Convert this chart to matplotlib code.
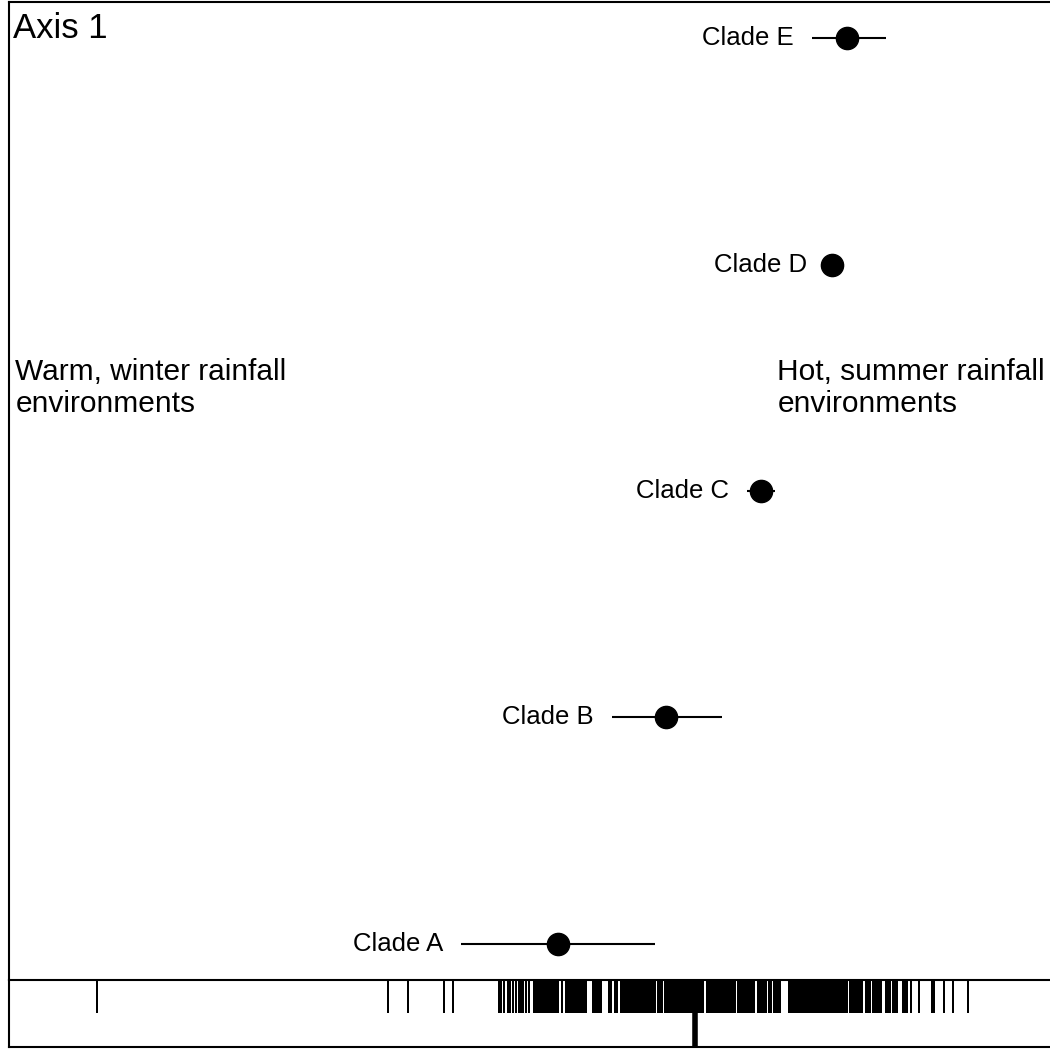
import matplotlib
matplotlib.use("Agg")
import matplotlib.pyplot as plt

plt.rcParams['font.family'] = ['Liberation Sans', 'DejaVu Sans']

# clade means on axis 1 with their intervals
clades = ['Clade A', 'Clade B', 'Clade C', 'Clade D', 'Clade E']
means = [-1.39, -0.31, 0.64, 1.35, 1.50]
lower = [-2.36, -0.85, 0.50, 1.28, 1.15]
upper = [-0.42, 0.25, 0.78, 1.46, 1.89]

# axis 1 scores of individual samples (rug)
scores = [
    -6.00, -3.09, -2.89, -2.53, -2.44,
    -1.98, -1.96, -1.93, -1.89, -1.87, -1.84, -1.81, -1.78, -1.76, -1.74,
    -1.71, -1.68, -1.63, -1.61, -1.59, -1.57, -1.55, -1.53, -1.51, -1.49,
    -1.47, -1.45, -1.43, -1.41, -1.39, -1.35, -1.31, -1.29, -1.27, -1.25,
    -1.23, -1.21, -1.19, -1.17, -1.15, -1.13, -1.11, -1.04, -1.02, -1.00,
    -0.98, -0.96, -0.88, -0.86, -0.82, -0.80, -0.76, -0.74, -0.72, -0.70,
    -0.68, -0.66, -0.64, -0.62, -0.60, -0.58, -0.56, -0.54, -0.52, -0.50,
    -0.48, -0.46, -0.44, -0.42, -0.39, -0.37, -0.35, -0.32, -0.30, -0.28,
    -0.26, -0.24, -0.22, -0.20, -0.18, -0.16, -0.14, -0.12, -0.10, -0.08,
    -0.06, -0.04, -0.02, 0.00, 0.02, 0.04, 0.06, 0.10, 0.12, 0.14, 0.16,
    0.18, 0.20, 0.22, 0.24, 0.26, 0.28, 0.30, 0.32, 0.34, 0.36, 0.38,
    0.41, 0.43, 0.45, 0.47, 0.49, 0.51, 0.53, 0.55, 0.57, 0.61, 0.63,
    0.65, 0.67, 0.69, 0.72, 0.74, 0.77, 0.79, 0.81, 0.83, 0.92, 0.94,
    0.96, 0.98, 1.00, 1.02, 1.04, 1.06, 1.08, 1.10, 1.12, 1.14, 1.16,
    1.18, 1.20, 1.22, 1.24, 1.26, 1.28, 1.30, 1.32, 1.34, 1.36, 1.38,
    1.40, 1.42, 1.44, 1.46, 1.48, 1.50, 1.53, 1.55, 1.57, 1.59, 1.61,
    1.63, 1.65, 1.69, 1.71, 1.73, 1.76, 1.78, 1.80, 1.82, 1.84, 1.89,
    1.91, 1.93, 1.96, 1.98, 2.00, 2.06, 2.08, 2.10, 2.14, 2.22, 2.35,
    2.37, 2.47, 2.56, 2.71,
]
overall_mean = -0.02

xlim = (-6.88, 3.53)

fig = plt.figure(figsize=(10.5, 10.49), dpi=100)
ax = fig.add_axes([0.0086, 0.0658, 0.9914, 0.9322])
rug = fig.add_axes([0.0086, 0.0019, 0.9914, 0.0639])

ypos = list(range(1, len(clades) + 1))
for y, m, lo, hi, name in zip(ypos, means, lower, upper, clades):
    ax.plot([lo, hi], [y, y], color='black', lw=1.5, solid_capstyle='butt')
    ax.plot(m, y, 'o', color='black', ms=16)
    ax.annotate(name, (lo, y), xytext=(-13, 0), textcoords='offset points',
                ha='right', va='center', fontsize=18.5)

ax.set_xlim(*xlim)
ax.set_ylim(0.84, 5.16)
ax.set_xticks([])
ax.set_yticks([])
ax.spines['right'].set_visible(False)
ax.spines['bottom'].set_visible(False)
for s in ['left', 'top']:
    ax.spines[s].set_linewidth(1.5)

ax.text(0.004, 0.99, 'Axis 1', transform=ax.transAxes, ha='left', va='top',
        fontsize=25)
ax.text(0.006, 0.636, 'Warm, winter rainfall\nenvironments', transform=ax.transAxes,
        ha='left', va='top', fontsize=21.5, linespacing=1.2)
ax.text(0.738, 0.636, 'Hot, summer rainfall\nenvironments', transform=ax.transAxes,
        ha='left', va='top', fontsize=21.5, linespacing=1.2)

rug.vlines(scores, 0.51, 1.0, color='black', lw=1.2, antialiased=False)
rug.vlines(overall_mean, 0.0, 0.51, color='black', lw=4)
rug.set_xlim(*xlim)
rug.set_ylim(0, 1)
rug.set_xticks([])
rug.set_yticks([])
rug.spines['right'].set_visible(False)
for s in ['left', 'top', 'bottom']:
    rug.spines[s].set_linewidth(1.5)

fig.savefig('out.png', dpi=100)
